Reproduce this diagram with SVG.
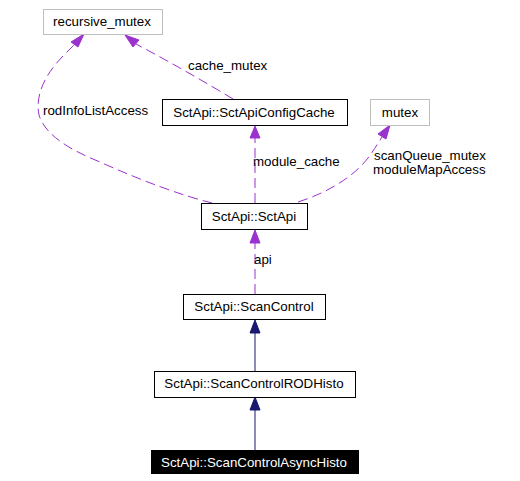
<svg xmlns="http://www.w3.org/2000/svg" width="520" height="481" viewBox="0 0 520 481">
<style>
  text { font-family: "Liberation Sans", Arial, sans-serif; font-size: 13.33px; fill: #000; }
  .c { text-anchor: middle; }
  .box { fill: #fff; stroke: #000; stroke-width: 1; }
  .gbox { fill: #fff; stroke: #bfbfbf; stroke-width: 1; }
  .use { fill: none; stroke: #9a32cd; stroke-width: 1; stroke-dasharray: 10,5; }
  .inh { fill: none; stroke: #191970; stroke-width: 1; }
  .uhead { fill: #9a32cd; stroke: #9a32cd; }
  .ihead { fill: #191970; stroke: #191970; }
</style>
<rect width="520" height="481" fill="#fff"/>
<g id="connectors">
  <!-- rodInfoListAccess -->
  <path class="use" d="M212,203 C180,195 140,180 100,162 C70,150 45,135 39,115 C35,95 45,75 62,57 L74,45"/>
  <polygon class="uhead" points="84,34 71,42 78,47"/>
  <text x="43" y="115">rodInfoListAccess</text>
  <!-- cache_mutex -->
  <path class="use" d="M233,99 C205,82 170,62 136,44"/>
  <polygon class="uhead" points="125,35 133,47 139,40"/>
  <text x="188" y="70">cache_mutex</text>
  <!-- module_cache -->
  <path class="use" d="M255,203 L255,138"/>
  <polygon class="uhead" points="255,126 250,138 260,138"/>
  <text x="253" y="166">module_cache</text>
  <!-- scanQueue_mutex / moduleMapAccess -->
  <path class="use" d="M298,202 C330,192 355,175 368,158 C374,150 378,143 382,137"/>
  <polygon class="uhead" points="390,125 378,134 386,139"/>
  <text x="374" y="160">scanQueue_mutex</text>
  <text x="373" y="174">moduleMapAccess</text>
  <!-- api -->
  <path class="use" d="M255,294 L255,243"/>
  <polygon class="uhead" points="255,230 250,243 260,243"/>
  <text x="254" y="264">api</text>
  <!-- inheritance -->
  <path class="inh" d="M255,371 L255,333"/>
  <polygon class="ihead" points="255,320 250,333 260,333"/>
  <path class="inh" d="M255,450 L255,410"/>
  <polygon class="ihead" points="255,397 250,410 260,410"/>
</g>
<g id="recursive_mutex">
  <rect class="gbox" x="43.5" y="9.5" width="119" height="25"/>
  <text class="c" x="102" y="26">recursive_mutex</text>
</g>
<g id="SctApiConfigCache">
  <rect class="box" x="162.5" y="99.5" width="185" height="26"/>
  <text class="c" x="254" y="117">SctApi::SctApiConfigCache</text>
</g>
<g id="mutex">
  <rect class="gbox" x="370.5" y="99.5" width="59" height="26"/>
  <text class="c" x="400" y="117">mutex</text>
</g>
<g id="SctApi">
  <rect class="box" x="201.5" y="203.5" width="106" height="26"/>
  <text class="c" x="254" y="221">SctApi::SctApi</text>
</g>
<g id="ScanControl">
  <rect class="box" x="183.5" y="294.5" width="142" height="25"/>
  <text class="c" x="254" y="311">SctApi::ScanControl</text>
</g>
<g id="ScanControlRODHisto">
  <rect class="box" x="154.5" y="371.5" width="201" height="26"/>
  <text class="c" x="254" y="388">SctApi::ScanControlRODHisto</text>
</g>
<g id="ScanControlAsyncHisto">
  <rect x="151" y="450" width="208" height="24" fill="#000"/>
  <text class="c" x="254" y="467" style="fill:#fff">SctApi::ScanControlAsyncHisto</text>
</g>
</svg>
